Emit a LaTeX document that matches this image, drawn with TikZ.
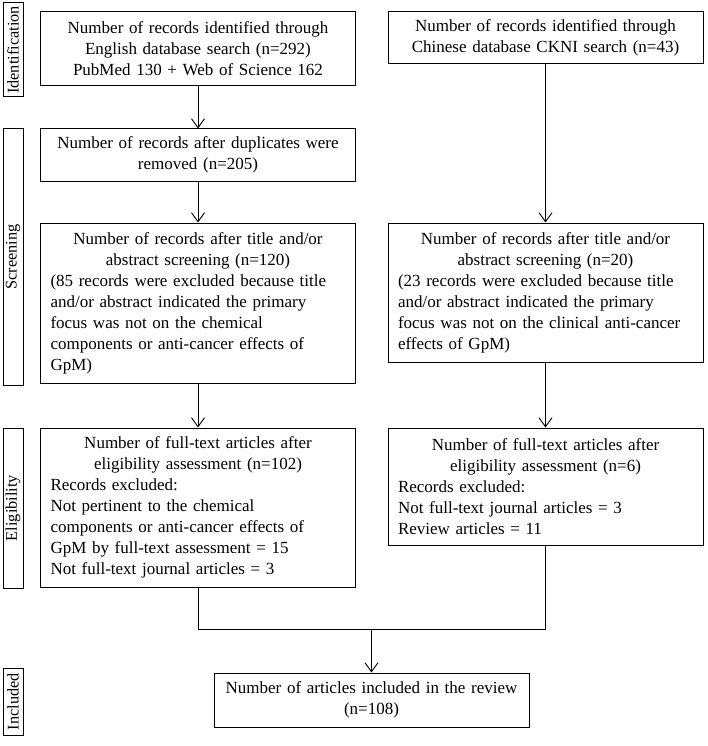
\documentclass[tikz,border=0pt]{standalone}
\usepackage{fontspec}
\setmainfont{Liberation Serif}
\usetikzlibrary{arrows.meta}

\begin{document}
\begin{tikzpicture}[x=1pt, y=-1pt,
     every node/.style={font=\fontsize{17}{21}\selectfont},
     record/.style={draw, line width=1pt, text width=295pt, inner xsep=10pt, inner ysep=4pt, align=left},
     phase/.style={draw, line width=1pt, rotate=90, minimum height=20pt, inner sep=0pt, font=\fontsize{16.3}{20}\selectfont},
     flow/.style={-{Straight Barb[length=9pt,width=13pt]}, line width=0.9pt}]

   \useasboundingbox (0,0) rectangle (707,746);

   % phase labels
   \node[phase, minimum width=94pt] (ident) at (13,50) {Identification};
   \node[phase, minimum width=256pt] (scrn) at (13,257) {Screening};
   \node[phase, minimum width=160pt] (elig) at (13,508) {Eligibility};
   \node[phase, minimum width=67pt] (incd) at (13,701.5) {Included};

   % records
   \node[record, align=center, minimum height=74pt] (engl) at (198,49)
     {Number of records identified through\\English database search (n=292)\\PubMed 130 + Web of Science 162};
   \node[record, align=center, minimum height=52pt] (chin) at (545.5,38)
     {Number of records identified through\\Chinese database CKNI search (n=43)};
   \node[record, align=center, minimum height=52pt] (dedup) at (198,155)
     {Number of records after duplicates were\\removed (n=205)};
   \node[record, minimum height=160pt] (screng) at (198,303)
     {{\centering Number of records after title and/or\\abstract screening (n=120)\par}
      (85 records were excluded because title\\and/or abstract indicated the primary\\focus was not on the chemical\\components or anti-cancer effects of\\GpM)};
   \node[record, minimum height=139pt] (scrchn) at (545.5,292.5)
     {{\centering Number of records after title and/or\\abstract screening (n=20)\par}
      (23 records were excluded because title\\and/or abstract indicated the primary\\focus was not on the clinical anti-cancer\\effects of GpM)};
   \node[record, minimum height=159pt] (elieng) at (198,507.5)
     {{\centering Number of full-text articles after\\eligibility assessment (n=102)\par}
      Records excluded:\\Not pertinent to the chemical\\components or anti-cancer effects of\\GpM by full-text assessment = 15\\Not full-text journal articles = 3};
   \node[record, minimum height=117pt] (elichn) at (545.5,486.5)
     {{\centering Number of full-text articles after\\eligibility assessment (n=6)\par}
      Records excluded:\\Not full-text journal articles = 3\\Review articles = 11};
   \node[record, align=center, text width=301pt, inner xsep=7pt, minimum height=54pt] (incl) at (371.5,700)
     {Number of articles included in the review\\(n=108)};

   \coordinate (mrg) at (371.5,629);

   \draw[flow] (engl) -- (dedup);
   \draw[flow] (dedup) -- (screng);
   \draw[flow] (screng) -- (elieng);
   \draw[flow] (chin) -- (scrchn);
   \draw[flow] (scrchn) -- (elichn);
   \draw[line width=0.9pt] (elieng.south) -- (elieng.south |- mrg) -- (elichn.south |- mrg) -- (elichn.south);
   \draw[flow] (mrg) -- (incl);
\end{tikzpicture}
\end{document}
